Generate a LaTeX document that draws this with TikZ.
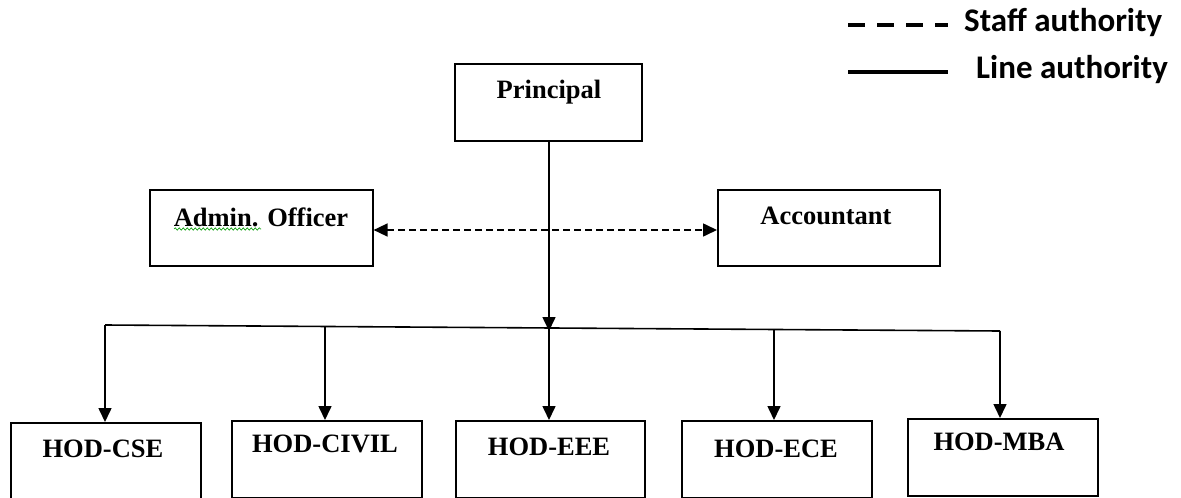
\documentclass[tikz,border=0pt]{standalone}
\usepackage{fontspec}
\setmainfont{Liberation Serif}
\newfontfamily\legendfont{Carlito}
\usetikzlibrary{arrows.meta,decorations.pathmorphing}
\begin{document}
\begin{tikzpicture}[x=1pt,y=-1pt,
  box/.style={draw,line width=1.6pt,inner sep=0pt,anchor=north west},
  boxtext/.style={anchor=base,inner sep=0pt,font=\fontsize{26.5}{30}\selectfont\bfseries},
  link/.style={line width=1.6pt,-{Triangle[width=13pt,length=14pt]}},
  staff/.style={line width=1.6pt,dash pattern=on 7pt off 4pt,
    {Triangle[width=13pt,length=14pt]}-{Triangle[width=13pt,length=14pt]}},
  legendtext/.style={anchor=base west,inner sep=0pt,font=\legendfont\fontsize{33}{36}\selectfont\bfseries}]
\useasboundingbox (0,0) rectangle (1181,498);

% boxes
\node[box,minimum width=187pt,minimum height=77pt] (principal) at (454,63) {};
\node[box,minimum width=223pt,minimum height=76pt] (admin) at (149,189) {};
\node[box,minimum width=222pt,minimum height=76pt] (accountant) at (717,189) {};
\node[box,minimum width=190pt,minimum height=76pt] (cse) at (10,422) {};
\node[box,minimum width=190pt,minimum height=77pt] (civil) at (231,420) {};
\node[box,minimum width=189pt,minimum height=77pt] (eee) at (455,420) {};
\node[box,minimum width=190pt,minimum height=77pt] (ece) at (681,420) {};
\node[box,minimum width=190pt,minimum height=77pt] (mba) at (907,418) {};

% box captions
\node[boxtext] (principal-t) at (549,98) {Principal};
\node[boxtext] (admin-t) at (261,226) {Admin. Officer};
\node[boxtext] (accountant-t) at (826,224) {Accountant};
\node[boxtext] (cse-t) at (103,457) {HOD-CSE};
\node[boxtext] (civil-t) at (325,452) {HOD-CIVIL};
\node[boxtext] (eee-t) at (549,455) {HOD-EEE};
\node[boxtext] (ece-t) at (776,457) {HOD-ECE};
\node[boxtext] (mba-t) at (999,450) {HOD-MBA};

% spell-check underline
\draw[green!60!black,line width=0.6pt,decorate,
  decoration={snake,amplitude=1.2pt,segment length=4pt}]
  (174,229) -- (261,229);

% bus line under the principal
\coordinate (busL) at (105,325);
\coordinate (busR) at (1000,331);
\coordinate (busC) at (549,327);
\draw[line width=1.6pt] (busL) -- (busR);

% principal down to the bus
\draw[link] (principal.south -| busC) -- ([yshift=-4pt]busC);

% bus down to each head of department
\draw[link] (busL) -- (busL |- cse.north);
\draw[link] (325,326) -- (civil.north -| 325,0);
\draw[link] (busC) -- (eee.north -| busC);
\draw[link] (774,329) -- (ece.north -| 774,0);
\draw[link] (busR) -- (busR |- mba.north);

% staff authority between officer and accountant
\draw[staff] (admin.east |- 0,230) -- (accountant.west |- 0,230);

% legend
\coordinate (lg1a) at (848,25);
\coordinate (lg1b) at (948,25);
\coordinate (lg2a) at (848,72);
\coordinate (lg2b) at (948,72);
\draw[line width=4.5pt,dash pattern=on 17pt off 12pt] (lg1a) -- (lg1b);
\draw[line width=3.5pt] (lg2a) -- (lg2b);
\node[legendtext] (staff-t) at (964,31) {Staff authority};
\node[legendtext] (line-t) at (976,78) {Line authority};
\end{tikzpicture}
\end{document}
